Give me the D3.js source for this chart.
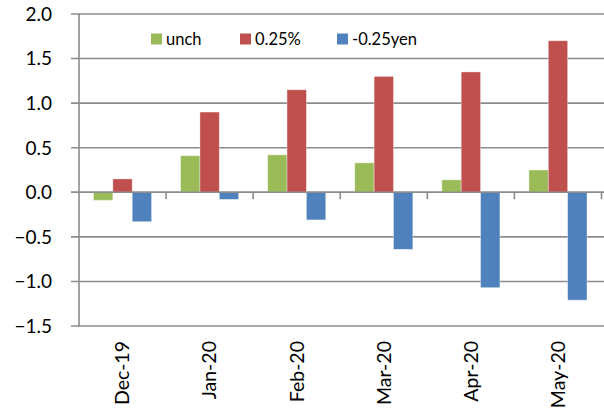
<!DOCTYPE html>
<html>
<head>
<meta charset="utf-8">
<script src="https://cdn.jsdelivr.net/npm/d3@7/dist/d3.min.js"></script>
<style>
  html, body { margin: 0; padding: 0; background: #fff; }
  svg { display: block; font-family: Lato, "Open Sans", sans-serif; }
</style>
</head>
<body>
<svg id="chart" width="604" height="412"></svg>
<script>
// Monthly categories and the three scenario series
const months = ["Dec-19", "Jan-20", "Feb-20", "Mar-20", "Apr-20", "May-20"];
const seriesNames = ["unch", "0.25%", "-0.25yen"];
const unch = [-0.09, 0.41, 0.42, 0.33, 0.14, 0.25];
const up25 = [0.15, 0.90, 1.15, 1.30, 1.35, 1.70];
const yen25 = [-0.33, -0.08, -0.31, -0.64, -1.07, -1.21];
const yTicks = [-1.5, -1.0, -0.5, 0.0, 0.5, 1.0, 1.5, 2.0];
const colors = ["#9BBB59", "#C0504D", "#4F81BD"];

const values = [unch, up25, yen25];
const rows = months.map((m, i) => ({ month: m, vals: values.map(s => s[i]) }));

const svg = d3.select("#chart");
const plot = { left: 79, right: 601.5, top: 14, bottom: 326 };

const x = d3.scaleBand().domain(months).range([plot.left, plot.right]).paddingInner(0.333).paddingOuter(0.1665);
const x0 = d3.scaleBand().domain(months).range([plot.left, plot.right]);
const xs = d3.scaleBand().domain(d3.range(3)).range([0, x.bandwidth()]);
const y = d3.scaleLinear().domain([-1.5, 2.0]).range([plot.bottom, plot.top]);

// Horizontal gridlines
svg.append("g").selectAll("line").data(yTicks).join("line")
  .attr("x1", 71).attr("x2", 604)
  .attr("y1", d => y(d)).attr("y2", d => y(d))
  .attr("stroke", "#8c8c8c").attr("stroke-width", 1.6);

// Vertical axis line
svg.append("line")
  .attr("x1", plot.left).attr("x2", plot.left).attr("y1", plot.top).attr("y2", plot.bottom)
  .attr("stroke", "#8c8c8c").attr("stroke-width", 1.6);

// Y tick labels
svg.append("g").selectAll("text").data(yTicks).join("text")
  .attr("x", 52).attr("y", d => y(d)).attr("dy", "0.36em")
  .attr("text-anchor", "end").attr("font-size", 19).attr("fill", "#000")
  .text(d => d3.format(".1f")(d));

// Bars
const groups = svg.append("g").selectAll("g").data(rows).join("g")
  .attr("transform", d => `translate(${x(d.month)},0)`);
groups.selectAll("rect").data(d => d.vals.map((v, k) => ({ v, k }))).join("rect")
  .attr("x", d => xs(d.k))
  .attr("width", xs.bandwidth())
  .attr("y", d => y(Math.max(0, d.v)))
  .attr("height", d => Math.abs(y(d.v) - y(0)))
  .attr("fill", d => colors[d.k])
  .attr("stroke", "rgba(255,255,255,0.45)").attr("stroke-width", 0.8);

// Category axis on the zero line with ticks between categories
const ticksX = months.map(m => x0(m)).concat([plot.right]);
svg.append("g").selectAll("line").data(ticksX.slice(1)).join("line")
  .attr("x1", d => d).attr("x2", d => d)
  .attr("y1", y(0)).attr("y2", y(0) + 7)
  .attr("stroke", "#8c8c8c").attr("stroke-width", 1.6);
svg.append("line")
  .attr("x1", 71).attr("x2", 604).attr("y1", y(0)).attr("y2", y(0))
  .attr("stroke", "#8c8c8c").attr("stroke-width", 1.6);

// Rotated category labels under the plot
svg.append("g").selectAll("text").data(months).join("text")
  .attr("transform", d => `translate(${x0(d) + x0.bandwidth() / 2 + 6.8},341) rotate(-90)`)
  .attr("text-anchor", "end").attr("font-size", 19.5).attr("fill", "#000")
  .text(d => d);

// Legend
const legendX = [151, 240, 337];
const lg = svg.append("g").selectAll("g").data(seriesNames).join("g")
  .attr("transform", (d, i) => `translate(${legendX[i]},0)`);
lg.append("rect").attr("x", 0).attr("y", 33.5).attr("width", 11).attr("height", 11)
  .attr("fill", (d, i) => colors[i]);
lg.append("text").attr("x", 15).attr("y", 45).attr("font-size", 16.5).attr("fill", "#000")
  .text(d => d);
</script>
</body>
</html>
